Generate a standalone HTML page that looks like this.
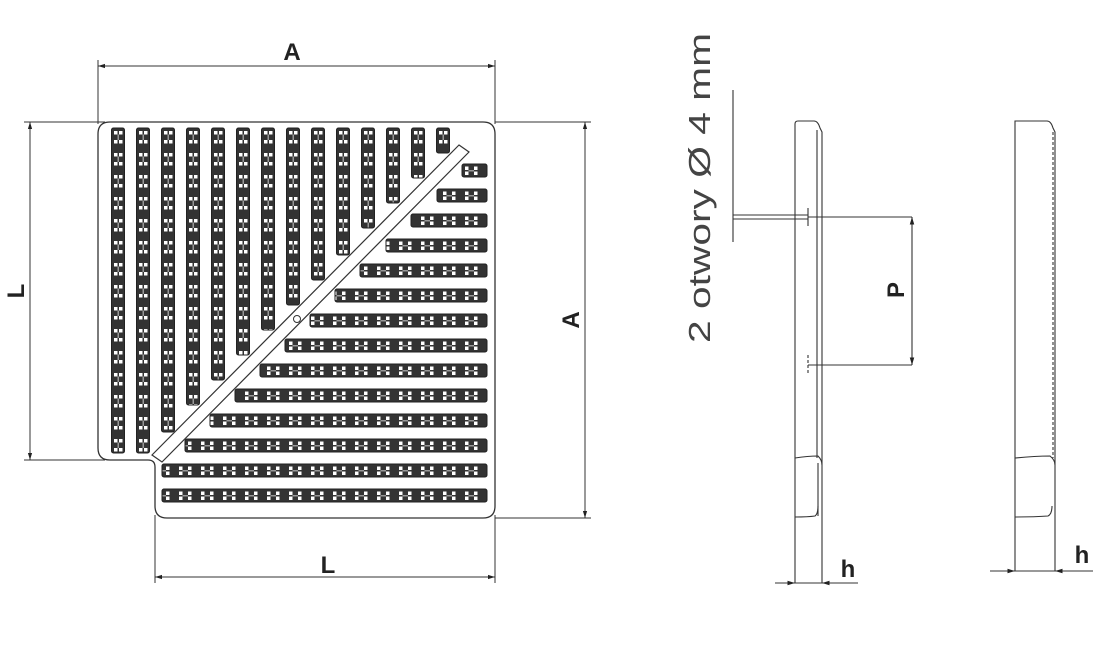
<!DOCTYPE html>
<html><head><meta charset="utf-8"><style>
html,body{margin:0;padding:0;background:#fff;}
svg{display:block;}
text{font-family:"Liberation Sans",sans-serif;}
</style></head><body>
<svg width="1097" height="649" viewBox="0 0 1097 649" xmlns="http://www.w3.org/2000/svg">
<defs>
<pattern id="pv" patternUnits="userSpaceOnUse" x="111.5" y="128" width="25" height="22">
<rect width="25" height="22" fill="#333"/>
<rect x="2.5" y="3" width="3.5" height="3.5" fill="#fff"/><rect x="7.5" y="3" width="3.5" height="3.5" fill="#fff"/>
<rect x="2.5" y="12" width="3.5" height="3.5" fill="#fff"/><rect x="7.5" y="12" width="3.5" height="3.5" fill="#fff"/>
<rect x="6" y="6.5" width="1.5" height="5.5" fill="#999"/>
</pattern>
<pattern id="ph" patternUnits="userSpaceOnUse" x="0" y="164" width="22" height="25">
<rect width="22" height="25" fill="#333"/>
<rect x="3" y="2.5" width="3.5" height="3.5" fill="#fff"/><rect x="3" y="7.5" width="3.5" height="3.5" fill="#fff"/>
<rect x="12" y="2.5" width="3.5" height="3.5" fill="#fff"/><rect x="12" y="7.5" width="3.5" height="3.5" fill="#fff"/>
<rect x="6.5" y="6" width="5.5" height="1.5" fill="#999"/>
</pattern>
<marker id="ar" viewBox="0 0 10 10" refX="10" refY="5" markerWidth="7" markerHeight="7" orient="auto-start-reverse"><path d="M0,2 L10,5 L0,8 z" fill="#222"/></marker>
</defs>

<path d="M110,122 H483 Q495,122 495,134 V506 Q495,518 483,518 H167 Q155,518 155,506 V467 Q155,460 148,460 H110 Q98,460 98,448 V134 Q98,122 110,122 Z" fill="#fff" stroke="#333" stroke-width="1.3"/>

<g fill="url(#pv)" stroke="#222" stroke-width="1">
<rect x="111.5" y="128" width="13" height="325" rx="2"/>
<rect x="136.5" y="128" width="13" height="325" rx="2"/>
<rect x="161.5" y="128" width="13" height="304" rx="2"/>
<rect x="186.5" y="128" width="13" height="277" rx="2"/>
<rect x="211.5" y="128" width="13" height="252" rx="2"/>
<rect x="236.5" y="128" width="13" height="227" rx="2"/>
<rect x="261.5" y="128" width="13" height="202" rx="2"/>
<rect x="286.5" y="128" width="13" height="177" rx="2"/>
<rect x="311.5" y="128" width="13" height="152" rx="2"/>
<rect x="336.5" y="128" width="13" height="127" rx="2"/>
<rect x="361.5" y="128" width="13" height="100" rx="2"/>
<rect x="386.5" y="128" width="13" height="75" rx="2"/>
<rect x="411.5" y="128" width="13" height="50" rx="2"/>
<rect x="436.5" y="128" width="13" height="25" rx="2"/>
</g>
<g fill="url(#ph)" stroke="#222" stroke-width="1">
<rect x="462" y="164" width="25" height="13" rx="2"/>
<rect x="437" y="189" width="50" height="13" rx="2"/>
<rect x="411" y="214" width="76" height="13" rx="2"/>
<rect x="386" y="239" width="101" height="13" rx="2"/>
<rect x="360" y="264" width="127" height="13" rx="2"/>
<rect x="335" y="289" width="152" height="13" rx="2"/>
<rect x="310" y="314" width="177" height="13" rx="2"/>
<rect x="285" y="339" width="202" height="13" rx="2"/>
<rect x="260" y="364" width="227" height="13" rx="2"/>
<rect x="235" y="389" width="252" height="13" rx="2"/>
<rect x="210" y="414" width="277" height="13" rx="2"/>
<rect x="185" y="439" width="302" height="13" rx="2"/>
<rect x="162" y="464" width="325" height="13" rx="2"/>
<rect x="162" y="489" width="325" height="13" rx="2"/>
</g>
<polygon points="459,145 469,152 162,462 152,455" fill="#fff" stroke="#333" stroke-width="1.2"/>
<circle cx="297" cy="319" r="3.5" fill="#fff" stroke="#333" stroke-width="1"/>

<g stroke="#333" stroke-width="1" fill="none">
<line x1="98" y1="60" x2="98" y2="124"/><line x1="495" y1="60" x2="495" y2="124"/>
<line x1="98" y1="66" x2="495" y2="66" marker-start="url(#ar)" marker-end="url(#ar)"/>
<line x1="24" y1="122" x2="105" y2="122"/><line x1="24" y1="460" x2="105" y2="460"/>
<line x1="30" y1="122" x2="30" y2="460" marker-start="url(#ar)" marker-end="url(#ar)"/>
<line x1="495" y1="122" x2="591" y2="122"/><line x1="495" y1="518" x2="591" y2="518"/>
<line x1="585" y1="122" x2="585" y2="518" marker-start="url(#ar)" marker-end="url(#ar)"/>
<line x1="155" y1="515" x2="155" y2="583"/><line x1="495" y1="515" x2="495" y2="583"/>
<line x1="155" y1="577" x2="495" y2="577" marker-start="url(#ar)" marker-end="url(#ar)"/>
</g>
<g font-weight="bold" font-size="24" fill="#222">
<text x="292" y="60" text-anchor="middle">A</text>
<text x="328" y="573" text-anchor="middle">L</text>
<text transform="translate(24,291) rotate(-90)" text-anchor="middle">L</text>
<text transform="translate(579,320) rotate(-90)" text-anchor="middle">A</text>
</g>

<g stroke="#333" stroke-width="1.1" fill="none">
<path d="M795,583 V124 Q795,121 798,121 H814 Q818,121 820,128 L822,132 V583"/>
<line x1="817" y1="130" x2="817" y2="458"/>
<path d="M795,458 Q808,456 818,456 Q822,460 822,465"/>
<path d="M795,517 Q808,517 815,516 Q818,514 818,506"/>
<path d="M818,463 V516"/>
<line x1="775" y1="583" x2="858" y2="583"/>
<line x1="775" y1="583" x2="795" y2="583" marker-end="url(#ar)"/>
<line x1="845" y1="583" x2="822" y2="583" marker-end="url(#ar)"/>
<line x1="733" y1="90" x2="733" y2="242"/>
<line x1="733" y1="215" x2="808" y2="215"/><line x1="733" y1="219" x2="808" y2="219"/>
<line x1="808" y1="217" x2="912" y2="217"/>
<line x1="912" y1="217" x2="912" y2="365" marker-start="url(#ar)" marker-end="url(#ar)"/>
<line x1="808" y1="365" x2="912" y2="365"/>
<line x1="808" y1="208" x2="808" y2="226"/>
<line x1="808" y1="355" x2="808" y2="375" stroke-dasharray="3,2"/>
</g>
<text x="848" y="577" font-weight="bold" font-size="24" fill="#222" text-anchor="middle">h</text>
<text transform="translate(904,290) rotate(-90)" font-weight="bold" font-size="24" fill="#222" text-anchor="middle">P</text>
<text transform="translate(710,188) rotate(-90)" font-size="31" fill="#444" text-anchor="middle" textLength="310" lengthAdjust="spacingAndGlyphs">2 otwory Ø 4 mm</text>

<g stroke="#333" stroke-width="1.1" fill="none">
<path d="M1015,571 V121 H1047 Q1051,121 1053,128 L1055,132 V571"/>
<line x1="1053" y1="132" x2="1053" y2="458" stroke-dasharray="3,2"/>
<path d="M1015,458 Q1035,456 1050,456 Q1055,460 1055,465"/>
<path d="M1015,517 Q1035,517 1048,516 Q1052,514 1052,506"/>
<line x1="990" y1="571" x2="1093" y2="571"/>
<line x1="990" y1="571" x2="1015" y2="571" marker-end="url(#ar)"/>
<line x1="1078" y1="571" x2="1055" y2="571" marker-end="url(#ar)"/>
</g>
<text x="1082" y="563" font-weight="bold" font-size="24" fill="#222" text-anchor="middle">h</text>
</svg>
</body></html>
